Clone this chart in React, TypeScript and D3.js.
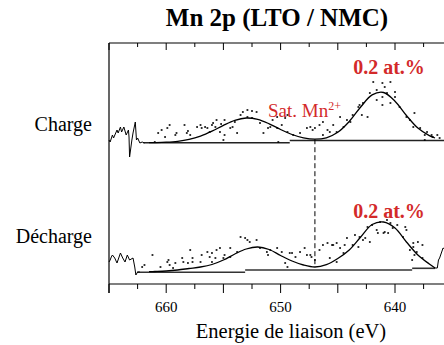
import React from "react";
import * as d3 from "d3";

// ---------- data ----------
const fitE = [661.5, 661, 660, 659, 658, 657, 656, 655, 654, 653, 652, 651, 650, 649, 648, 647, 646, 645, 644, 643, 642, 641, 640, 639, 638, 637, 636.5];
const chargeFit = [141.3, 141.4, 141.8, 142.7, 144.6, 147.9, 152.8, 158.7, 163.7, 166.0, 164.6, 160.2, 154.5, 149.5, 146.1, 144.8, 146.2, 151.7, 162.5, 177.0, 189.1, 191.5, 182.8, 168.5, 155.9, 148.3, 146.0];
const dischargeFit = [12.3, 12.5, 13, 14, 15.5, 17, 19.5, 24, 30, 35, 37, 34.5, 28.5, 23, 19, 17, 19.3, 25.5, 34, 47, 59.5, 62, 56, 42, 29, 20, 16];

const chargeNoiseE = [665, 664.9, 664.7, 664.6, 664.3, 664.2, 664.0, 663.9, 663.7, 663.5, 663.3, 663.25, 663.2, 663.0, 662.9, 662.7, 662.6, 662.5, 662.3, 662.1, 661.9];
const chargeNoiseV = [144, 142, 149, 146, 154, 151, 157, 152, 157, 149, 154, 147, 127, 144, 151, 162, 144, 146, 141, 142, 141];
const dischargeNoiseE = [665, 664.9, 664.8, 664.7, 664.5, 664.3, 664.0, 663.8, 663.6, 663.4, 663.2, 662.9, 662.75, 662.65, 662.5, 662.3];
const dischargeNoiseV = [22, 24, 27, 29, 26, 21, 31, 26, 22, 29, 24, 26, 17, 9, 12, 12];
const dischargeTailE = [636.5, 636.3, 636.2, 636.1, 635.8, 635.5];
const dischargeTailV = [16, 16, 24, 26, 36, 34];

const chargeBgE = [[662.0, 649.2], [649.2, 635.0]];
const chargeBgV = [141.3, 143.5];
const dischargeBgE = [[662.55, 653.1], [653.1, 638.5], [638.5, 636.5]];
const dischargeBgV = [11.7, 14, 15.7];

const chargeDotE = [660.7, 659.9, 659.7, 659.2, 660.1, 658.4, 658.2, 657.9, 657.0, 656.9, 656.6, 656.0, 656.2, 661.0, 660.4, 659.1, 658.1, 657.3, 656.4, 655.9, 655.6, 655.3, 654.9, 654.2, 654.0, 653.5, 653.3, 652.9, 652.5, 652.1, 651.8, 651.5, 651.1, 650.7, 650.3, 649.9, 649.4, 648.9, 648.3, 647.7, 647.2, 646.6, 645.9, 645.4, 644.8, 644.2, 643.7, 643.2, 642.8, 642.2, 641.9, 641.6, 641.1, 640.9, 640.4, 640.0, 639.6, 639.0, 638.4, 637.8, 637.4, 636.7, 636.1, 655.7, 655.2, 654.9, 654.4, 653.8, 652.9, 652.5, 650.9, 650.3, 649.6, 649.4, 647.4, 647.0, 655.0, 650.2, 641.1, 641.6, 640.7, 640.0, 640.4, 641.1, 643.1, 642.9, 642.4, 643.9, 644.5, 645.1, 645.7, 646.3, 638.3, 638.7, 637.2, 636.8, 636.3, 637.4, 646.3];
const chargeDotV = [151, 156, 159, 149, 147, 159, 151, 149, 159, 156, 157, 159, 152, 142, 154, 151, 153, 157, 156, 161, 164, 152, 149, 157, 162, 169, 172, 174, 173, 172, 161, 151, 156, 164, 167, 159, 152, 149, 151, 156, 154, 159, 154, 159, 167, 164, 169, 177, 181, 191, 202, 194, 187, 197, 202, 187, 177, 167, 157, 156, 149, 147, 146, 157, 160, 164, 156, 151, 167, 166, 157, 156, 166, 169, 157, 156, 144, 142, 201, 184, 191, 192, 181, 179, 179, 169, 167, 162, 157, 152, 152, 162, 171, 164, 152, 149, 149, 144, 149];

const dischargeDotE = [661.2, 661.9, 662.1, 659.9, 659.7, 659.2, 659.4, 658.6, 658.5, 658.1, 657.9, 657.7, 656.9, 656.4, 656.2, 656.0, 660.5, 659.8, 657.7, 657.0, 656.0, 655.7, 655.3, 654.9, 654.4, 653.5, 653.1, 652.7, 652.1, 651.8, 650.9, 650.3, 649.9, 649.6, 649.2, 648.7, 648.3, 647.7, 647.3, 647.0, 646.6, 645.9, 645.4, 644.8, 644.2, 643.5, 642.8, 642.4, 642.0, 641.6, 640.9, 640.4, 639.8, 639.0, 638.4, 638.0, 637.6, 638.5, 652.9, 651.2, 651.1, 649.4, 649.0, 647.9, 647.4, 655.6, 655.0, 654.4, 653.8, 646.3, 645.5, 645.1, 644.4, 645.7, 645.1, 644.5, 643.7, 643.2, 643.1, 642.6, 642.2, 641.5, 641.0, 640.6, 641.3, 640.7, 640.2, 639.1, 639.3, 638.7, 638.4, 638.3, 638.1, 637.6];
const dischargeDotV = [29, 19, 17, 22, 19, 21, 16, 26, 22, 21, 34, 22, 29, 32, 27, 22, 17, 24, 26, 22, 31, 26, 36, 29, 36, 47, 46, 42, 44, 36, 34, 36, 32, 21, 31, 27, 32, 29, 27, 24, 34, 41, 39, 36, 46, 49, 44, 57, 59, 54, 52, 61, 59, 54, 37, 42, 39, 24, 44, 32, 29, 17, 31, 36, 29, 34, 26, 27, 32, 39, 39, 41, 39, 26, 22, 31, 39, 37, 47, 46, 42, 51, 51, 51, 62, 64, 56, 57, 47, 34, 41, 29, 32, 26];

const majorTicks = [665, 660, 655, 650, 645, 640, 635];
const minorTicks = [662.5, 657.5, 652.5, 647.5, 642.5, 637.5];
const tickLabels = [660, 650, 640];
const satEnergy = 647;

const title = "Mn 2p (LTO / NMC)";
const xTitle = "Energie de liaison (eV)";
const rowLabels = ["Charge", "Décharge"];
const pctLabel = "0.2 at.%";

// ---------- layout ----------
const W = 444, H = 345;
const left = 109, top = 43, bottom = 284;
const RED = "#d32a2a";
const SERIF = '"Liberation Serif", "DejaVu Serif", serif';

export default function App() {
  const x = d3.scaleLinear().domain([665, 640]).range([left, 395]);
  const y = d3.scaleLinear().domain([0, 241]).range([bottom, top]);

  const line = d3.line<[number, number]>().x((d) => x(d[0])).y((d) => y(d[1]));
  const smooth = d3.line<[number, number]>().x((d) => x(d[0])).y((d) => y(d[1])).curve(d3.curveCatmullRom.alpha(0.5));
  const zip = (a: number[], b: number[]) => a.map((v, i) => [v, b[i]] as [number, number]);

  const satIdx = fitE.indexOf(satEnergy);

  const dots = (E: number[], V: number[], key: string) =>
    E.map((e, i) => (
      <rect key={key + i} x={x(e) - 0.9} y={y(V[i]) - 0.8} width={1.8} height={1.6} fill="#000" />
    ));

  const tstyle = { fontFamily: SERIF };

  return (
    <svg width={W} height={H} style={{ position: "absolute", left: 0, top: 0, background: "#fff", fontFamily: SERIF }}>
      <rect width={W} height={H} fill="#fff" />
      {/* title */}
      <text x={277} y={26} textAnchor="middle" fontSize={25} fontWeight="bold" style={tstyle}>{title}</text>

      {/* frame */}
      <line x1={left} x2={W} y1={top} y2={top} stroke="#000" strokeWidth={1.2} />
      <line x1={left} x2={W} y1={bottom} y2={bottom} stroke="#000" strokeWidth={1.2} />
      <line x1={left} x2={left} y1={top} y2={bottom + 9} stroke="#000" strokeWidth={1.2} />

      {/* ticks */}
      {majorTicks.map((t) => (
        <g key={"M" + t}>
          <line x1={x(t)} x2={x(t)} y1={top} y2={top + 7} stroke="#000" />
          <line x1={x(t)} x2={x(t)} y1={bottom} y2={bottom + 9} stroke="#000" />
        </g>
      ))}
      {minorTicks.map((t) => (
        <g key={"m" + t}>
          <line x1={x(t)} x2={x(t)} y1={top} y2={top + 4} stroke="#000" />
          <line x1={x(t)} x2={x(t)} y1={bottom} y2={bottom + 5} stroke="#000" />
        </g>
      ))}
      {tickLabels.map((t) => (
        <text key={"l" + t} x={x(t)} y={312} textAnchor="middle" fontSize={15} style={tstyle}>{t}</text>
      ))}
      <text x={291} y={338} textAnchor="middle" fontSize={20.5} style={tstyle}>{xTitle}</text>

      {/* row labels */}
      <text x={92} y={131} textAnchor="end" fontSize={20} style={tstyle}>{rowLabels[0]}</text>
      <text x={92} y={243} textAnchor="end" fontSize={20} style={tstyle}>{rowLabels[1]}</text>

      {/* backgrounds */}
      {chargeBgE.map((seg, i) => (
        <path key={"cb" + i} d={line([[seg[0], chargeBgV[i]], [seg[1], chargeBgV[i]]]) || ""} stroke="#222" strokeWidth={1.6} fill="none" />
      ))}
      {dischargeBgE.map((seg, i) => (
        <path key={"db" + i} d={line([[seg[0], dischargeBgV[i]], [seg[1], dischargeBgV[i]]]) || ""} stroke="#333" strokeWidth={1.6} fill="none" />
      ))}

      {/* noisy raw edges */}
      <path d={line(zip(chargeNoiseE, chargeNoiseV)) || ""} stroke="#000" strokeWidth={1} fill="none" />
      <path d={line(zip(dischargeNoiseE, dischargeNoiseV)) || ""} stroke="#000" strokeWidth={1} fill="none" />
      <path d={line(zip(dischargeTailE, dischargeTailV)) || ""} stroke="#000" strokeWidth={1} fill="none" />

      {/* raw points */}
      {dots(chargeDotE, chargeDotV, "cd")}
      {dots(dischargeDotE, dischargeDotV, "dd")}

      {/* fits */}
      <path d={smooth(zip(fitE, chargeFit)) || ""} stroke="#000" strokeWidth={1.3} fill="none" />
      <path d={smooth(zip(fitE, dischargeFit)) || ""} stroke="#000" strokeWidth={1.3} fill="none" />

      {/* satellite marker */}
      <line x1={x(satEnergy)} x2={x(satEnergy)} y1={y(chargeFit[satIdx])} y2={y(dischargeFit[satIdx])} stroke="#000" strokeWidth={1} strokeDasharray="5,3" />

      {/* annotations */}
      <text x={268} y={117} fontSize={19} fill={RED} style={tstyle}>
        Sat. Mn<tspan fontSize={12} dy={-7}>2+</tspan>
      </text>
      <text x={389} y={74} textAnchor="middle" fontSize={20} fontWeight="bold" fill={RED} style={tstyle}>{pctLabel}</text>
      <text x={389} y={218} textAnchor="middle" fontSize={20} fontWeight="bold" fill={RED} style={tstyle}>{pctLabel}</text>
    </svg>
  );
}
